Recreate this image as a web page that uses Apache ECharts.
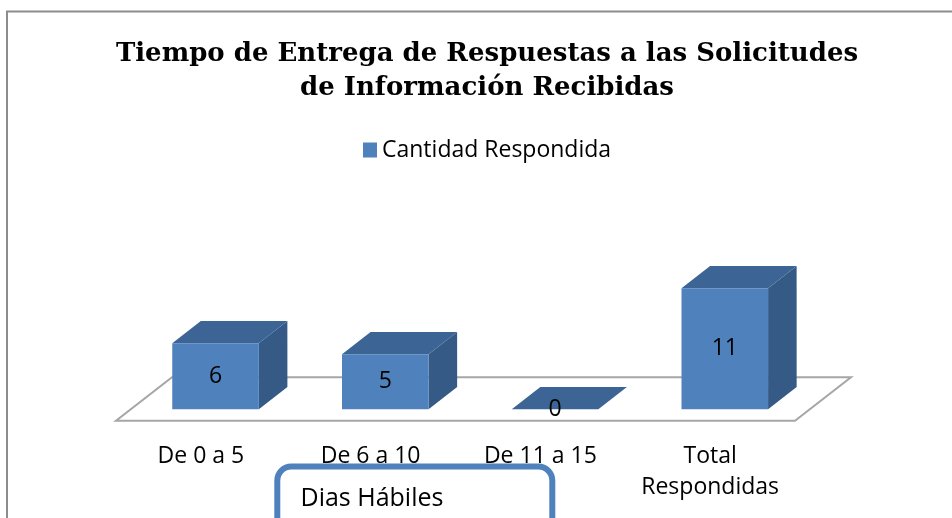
<!DOCTYPE html>
<html>
<head>
<meta charset="utf-8">
<script src="https://cdn.jsdelivr.net/npm/echarts@6/dist/echarts.min.js"></script>
<style>
  html, body { margin: 0; padding: 0; background: #fff; }
  #main { width: 952px; height: 518px; }
</style>
</head>
<body>
<div id="main"></div>
<script>
const categories = ["De 0 a 5", "De 6 a 10", "De 11 a 15", "Total\nRespondidas"];
const respondida = [6, 5, 0, 11];
const seriesName = "Cantidad Respondida";

// perspective of the floor (pixels) and where the boxes sit on it
const FLOOR_DX = 56, FLOOR_DY = -43.5;
const FRONT_AT = 0.262;   // box front plane, as a share of floor depth
const DEPTH = 0.51;       // box depth, as a share of floor depth
const BAR_RATIO = 0.51;   // box width, as a share of the band

const colors = { front: "#4f81bd", top: "#3c6494", side: "#355a86" };
const sans = "'Open Sans', 'Noto Sans', sans-serif";

const chart = echarts.init(document.getElementById("main"));

function renderFloor(params, api) {
  const c = api.coord([0, 0]);
  const band = api.size([1, 0])[0];
  const x0 = c[0] - band / 2;
  const x1 = x0 + band * categories.length;
  const y = c[1];
  return {
    type: "polygon",
    shape: {
      points: [
        [x0, y], [x1, y],
        [x1 + FLOOR_DX, y + FLOOR_DY], [x0 + FLOOR_DX, y + FLOOR_DY],
      ],
    },
    style: { fill: "#fff", stroke: "#a6a6a6", lineWidth: 2 },
    silent: true,
  };
}

function renderBox(params, api) {
  const i = api.value(0);
  const v = api.value(1);
  const base = api.coord([i, 0]);
  const top = api.coord([i, v]);
  const band = api.size([1, 0])[0];
  const w = band * BAR_RATIO;
  const ox = FLOOR_DX * FRONT_AT, oy = FLOOR_DY * FRONT_AT;
  const dx = FLOOR_DX * DEPTH, dy = FLOOR_DY * DEPTH;
  const x0 = base[0] - w / 2 + ox, x1 = x0 + w;
  const yb = base[1] + oy, yt = top[1] + oy;
  return {
    type: "group",
    children: [
      {
        type: "polygon",
        shape: { points: [[x1, yb], [x1 + dx, yb + dy], [x1 + dx, yt + dy], [x1, yt]] },
        style: { fill: colors.side },
      },
      {
        type: "polygon",
        shape: { points: [[x0, yt], [x1, yt], [x1 + dx, yt + dy], [x0 + dx, yt + dy]] },
        style: { fill: colors.top },
      },
      {
        type: "rect",
        shape: { x: x0, y: yt, width: w, height: yb - yt },
        style: { fill: colors.front },
      },
      {
        type: "text",
        style: {
          text: String(v),
          x: (x0 + x1) / 2,
          y: (yt + yb) / 2,
          align: "center",
          verticalAlign: "middle",
          fill: "#000",
          font: "23px " + sans,
        },
      },
    ],
  };
}

const options = {
  animation: false,
  title: {
    text: "Tiempo de Entrega de Respuestas a las Solicitudes\nde Información Recibidas",
    left: 487,
    top: 36.5,
    padding: 0,
    textAlign: "center",
    textStyle: {
      fontFamily: "'DejaVu Serif', serif",
      fontWeight: "bold",
      fontSize: 26,
      lineHeight: 34.5,
      color: "#000",
    },
  },
  legend: {
    data: [seriesName],
    left: 363,
    top: 138,
    padding: 0,
    icon: "rect",
    itemWidth: 14,
    itemHeight: 15,
    textStyle: { fontFamily: sans, fontSize: 23, lineHeight: 24, color: "#000" },
  },
  grid: { left: 116, right: 157, top: 288.7, bottom: 97.3 },
  xAxis: {
    type: "category",
    data: categories,
    axisLine: { show: false },
    axisTick: { show: false },
    axisLabel: {
      margin: 20,
      interval: 0,
      fontFamily: sans,
      fontSize: 23,
      lineHeight: 31,
      color: "#000",
    },
  },
  yAxis: {
    type: "value",
    min: 0,
    max: 12,
    show: false,
    splitLine: { show: false },
  },
  graphic: [
    {
      type: "rect",
      shape: { x: 7, y: 11.5, width: 1000, height: 600 },
      style: { fill: "none", stroke: "#8c8c8c", lineWidth: 2 },
      silent: true,
      z: -10,
    },
    {
      type: "rect",
      shape: { x: 277.3, y: 466.5, width: 275, height: 100, r: 14 },
      style: { fill: "#fff", stroke: "#4f81bd", lineWidth: 6 },
      silent: true,
    },
    {
      type: "text",
      style: {
        text: "Dias Hábiles",
        x: 300.5,
        y: 498.6,
        verticalAlign: "middle",
        fill: "#000",
        font: "25px " + sans,
      },
      silent: true,
    },
  ],
  series: [
    {
      name: "floor",
      type: "custom",
      renderItem: renderFloor,
      data: [[0, 0]],
      z: 1,
      silent: true,
    },
    {
      name: seriesName,
      type: "custom",
      renderItem: renderBox,
      itemStyle: { color: colors.front },
      data: respondida.map((v, i) => [i, v]),
      z: 2,
    },
  ],
};

chart.setOption(options);
</script>
</body>
</html>
